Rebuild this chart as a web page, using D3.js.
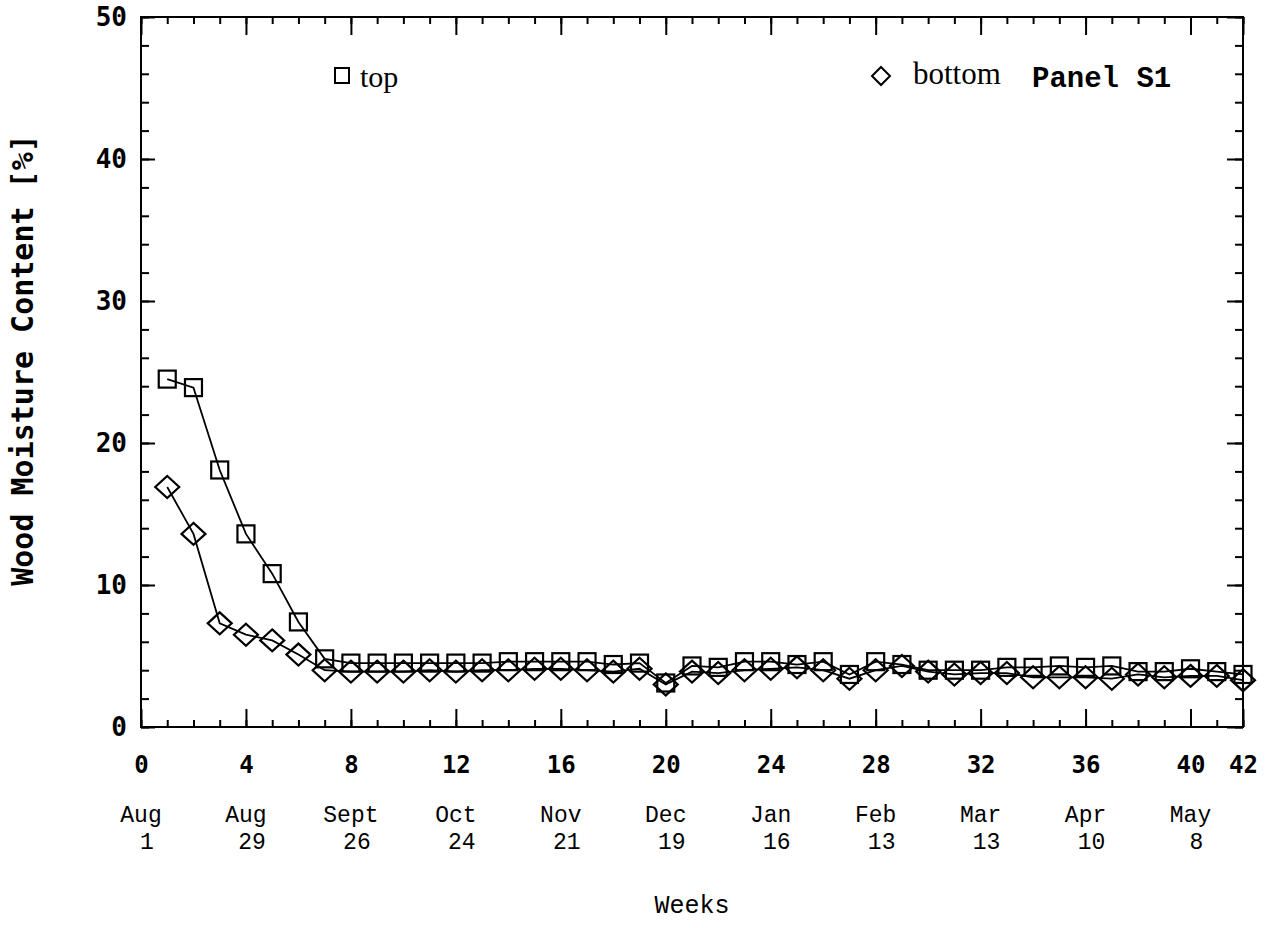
<!DOCTYPE html>
<html>
<head>
<meta charset="utf-8">
<script src="https://cdn.jsdelivr.net/npm/d3@7"></script>
<style>
  body { margin: 0; background: #fff; }
  .tick line { stroke: #000; stroke-width: 2px; }
  .domain { display: none; }
</style>
</head>
<body>
<div id="chart"></div>
<script>
// weeks since Aug 1
const weeks = d3.range(1, 43);

// moisture content [%], top of panel (squares)
const topValues = [24.5, 23.9, 18.1, 13.6, 10.8, 7.4, 4.8, 4.5, 4.5, 4.5, 4.5, 4.5,
  4.5, 4.6, 4.6, 4.6, 4.6, 4.4, 4.5, 3.1, 4.3, 4.2, 4.6, 4.6, 4.4, 4.6, 3.7, 4.6,
  4.4, 4.0, 4.0, 4.0, 4.2, 4.2, 4.3, 4.2, 4.3, 3.9, 3.9, 4.1, 3.9, 3.7];

// moisture content [%], bottom of panel (diamonds)
const bottomValues = [16.9, 13.6, 7.3, 6.5, 6.1, 5.1, 4.0, 3.9, 3.9, 3.9, 4.0, 3.9,
  4.0, 4.0, 4.1, 4.1, 4.0, 3.9, 4.1, 3.0, 3.9, 3.8, 4.0, 4.1, 4.2, 4.0, 3.4, 4.0,
  4.3, 3.9, 3.7, 3.8, 3.8, 3.5, 3.5, 3.5, 3.4, 3.7, 3.5, 3.6, 3.6, 3.3];

const majorWeeks = [0, 4, 8, 12, 16, 20, 24, 28, 32, 36, 40, 42];
const dateMonths = ["Aug", "Aug", "Sept", "Oct", "Nov", "Dec", "Jan", "Feb", "Mar", "Apr", "May"];
const dateDays = ["1", "29", "26", "24", "21", "19", "16", "13", "13", "10", "8"];
const dateWeeks = [0, 4, 8, 12, 16, 20, 24, 28, 32, 36, 40];

const width = 1265, height = 928;
const margin = { left: 141, right: 22, top: 17, bottom: 201 };

const svg = d3.select("#chart").append("svg")
  .attr("width", width)
  .attr("height", height)
  .style("background", "#fff");

const x = d3.scaleLinear().domain([0, 42]).range([margin.left, width - margin.right]);
const y = d3.scaleLinear().domain([0, 50]).range([height - margin.bottom, margin.top]);

const monoBold = "'DejaVu Sans Mono', monospace";

// minor + major ticks on all four sides, pointing inward
svg.append("g").attr("transform", `translate(0,${y(0)})`)
  .call(d3.axisBottom(x).tickValues(d3.range(0, 43)).tickSize(-7).tickFormat(""));
svg.append("g").attr("transform", `translate(0,${y(0)})`)
  .call(d3.axisBottom(x).tickValues(majorWeeks).tickSize(-18).tickPadding(29)
    .tickFormat(d => d))
  .selectAll("text")
  .attr("font-family", monoBold).attr("font-weight", "bold").attr("font-size", 24)
  .attr("fill", "#000");

svg.append("g").attr("transform", `translate(0,${y(50)})`)
  .call(d3.axisTop(x).tickValues(d3.range(0, 43)).tickSize(-7).tickFormat(""));
svg.append("g").attr("transform", `translate(0,${y(50)})`)
  .call(d3.axisTop(x).tickValues(majorWeeks).tickSize(-18).tickFormat(""));

svg.append("g").attr("transform", `translate(${x(0)},0)`)
  .call(d3.axisLeft(y).tickValues(d3.range(0, 51, 2)).tickSize(-8).tickFormat(""));
svg.append("g").attr("transform", `translate(${x(0)},0)`)
  .call(d3.axisLeft(y).tickValues(d3.range(0, 51, 10)).tickSize(-14).tickPadding(14))
  .selectAll("text")
  .attr("font-family", monoBold).attr("font-weight", "bold").attr("font-size", 26)
  .attr("fill", "#000");

svg.append("g").attr("transform", `translate(${x(42)},0)`)
  .call(d3.axisRight(y).tickValues(d3.range(0, 51, 2)).tickSize(-8).tickFormat(""));
svg.append("g").attr("transform", `translate(${x(42)},0)`)
  .call(d3.axisRight(y).tickValues(d3.range(0, 51, 10)).tickSize(-16).tickFormat(""));

// frame
svg.append("rect")
  .attr("x", x(0)).attr("y", y(50))
  .attr("width", x(42) - x(0)).attr("height", y(0) - y(50))
  .attr("fill", "none").attr("stroke", "#000").attr("stroke-width", 2);

// date labels under the week numbers
const dates = svg.append("g")
  .attr("font-family", "'Liberation Mono', monospace")
  .attr("font-size", 23)
  .attr("fill", "#000")
  .attr("text-anchor", "middle");
dateWeeks.forEach((w, i) => {
  dates.append("text").attr("x", x(w)).attr("y", 822).text(dateMonths[i]);
  dates.append("text").attr("x", x(w) + 6).attr("y", 849).text(dateDays[i]);
});

svg.append("text")
  .attr("x", (x(0) + x(42)) / 2).attr("y", 913)
  .attr("text-anchor", "middle")
  .attr("font-family", "'Liberation Mono', monospace")
  .attr("font-size", 25)
  .text("Weeks");

svg.append("text")
  .attr("transform", `translate(33,360) rotate(-90)`)
  .attr("text-anchor", "middle")
  .attr("font-family", monoBold).attr("font-weight", "bold").attr("font-size", 30)
  .text("Wood Moisture Content [%]");

// series
const line = d3.line().x(d => x(d[0])).y(d => y(d[1]));
const topData = weeks.map((w, i) => [w, topValues[i]]);
const bottomData = weeks.map((w, i) => [w, bottomValues[i]]);

svg.append("path").datum(topData).attr("d", line)
  .attr("fill", "none").attr("stroke", "#000").attr("stroke-width", 1.8);
svg.append("path").datum(bottomData).attr("d", line)
  .attr("fill", "none").attr("stroke", "#000").attr("stroke-width", 1.8);

const sq = 17;
svg.append("g").selectAll("rect").data(topData).join("rect")
  .attr("x", d => x(d[0]) - sq / 2).attr("y", d => y(d[1]) - sq / 2)
  .attr("width", sq).attr("height", sq)
  .attr("fill", "none").attr("stroke", "#000").attr("stroke-width", 2.2);

const diamond = (cx, cy, rx, ry) =>
  `M${cx},${cy - ry}L${cx + rx},${cy}L${cx},${cy + ry}L${cx - rx},${cy}Z`;
svg.append("g").selectAll("path").data(bottomData).join("path")
  .attr("d", d => diamond(x(d[0]), y(d[1]), 12, 11))
  .attr("fill", "none").attr("stroke", "#000").attr("stroke-width", 2.2);

// legend
svg.append("rect").attr("x", 335).attr("y", 68).attr("width", 14).attr("height", 15)
  .attr("fill", "none").attr("stroke", "#000").attr("stroke-width", 2);
svg.append("text").attr("x", 360).attr("y", 87)
  .attr("font-family", "'Liberation Serif', serif").attr("font-size", 30)
  .text("top");
svg.append("path").attr("d", diamond(881, 76, 9, 9))
  .attr("fill", "none").attr("stroke", "#000").attr("stroke-width", 2);
svg.append("text").attr("x", 913).attr("y", 84)
  .attr("font-family", "'Liberation Serif', serif").attr("font-size", 31)
  .text("bottom");
svg.append("text").attr("x", 1032).attr("y", 87)
  .attr("font-family", "'Liberation Mono', monospace").attr("font-weight", "bold")
  .attr("font-size", 29)
  .text("Panel S1");
</script>
</body>
</html>
